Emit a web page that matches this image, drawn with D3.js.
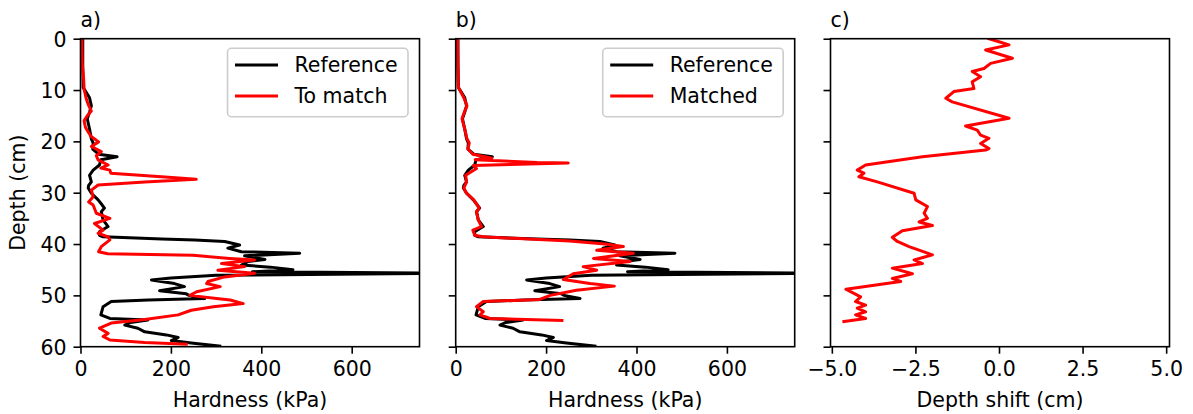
<!DOCTYPE html>
<html>
<head>
<meta charset="utf-8">
<script src="https://cdn.jsdelivr.net/npm/d3@7"></script>
<style>
  body { margin: 0; background: #fff; }
  svg { display: block; }
  text { font-family: "DejaVu Sans", sans-serif; fill: #000; }
</style>
</head>
<body>
<svg id="chart" width="1193" height="414"></svg>
<script>
// ---------- DATA ----------
// Reference hardness profile (black)
const refDepth = [0,5,9.5,10.5,11.5,13.1,14.3,15.6,17.6,19.5,20.3,21.5,22.5,23.0,23.6,24.6,25.6,26.6,27.9,28.6,29.1,30.1,31.4,32.4,33.0,33.7,35.3,36.6,37.6,38.3,38.6,39.0,39.2,39.5,40.2,40.8,41.5,41.8,42.3,43.0,43.4,44.1,44.5,45.0,45.4,45.7,46.1,46.6,47.0,47.7,48.3,49.1,49.7,50.0,50.6,50.9,51.2,52.2,53.8,54.5,54.8,55.3,55.8,56.4,57.1,57.7,58.2,58.8,59.3,59.9];
const refHardness = [5,5,6,13,20,24,20,15,20,24,28,27,40,81,45,42,28,20,24,18,17,24,39,48,53,46,50,61,42,42,50,180,253,319,352,326,356,485,363,408,371,356,420,470,380,820,300,200,157,208,230,175,234,240,275,150,68,50,45,65,149,110,98,127,142,190,216,201,245,308];

// Profile to match (red, panel a)
const matchDepth = [0,5,7.9,9.9,11.8,13.0,14.1,15.0,16.0,17.3,19.0,20.1,21.0,22.0,22.8,23.6,24.6,25.2,25.6,26.2,26.9,27.4,27.9,28.5,29.5,30.8,31.8,32.4,34.0,35.0,36.0,37.3,37.9,38.6,39.2,40.5,41.5,41.9,42.2,42.8,43.1,43.8,44.4,45.1,45.7,46.4,47.3,47.7,48.3,49.3,50.0,50.6,50.9,51.6,52.2,52.9,53.8,54.7,55.4,56.4,57.4,58.0,58.7,59.2,59.5];
const matchHardness = [3,4,7,8,13,18,24,15,8,11,23,40,24,46,35,39,61,45,65,67,179,256,142,39,24,28,18,28,35,65,31,50,39,61,65,46,40,60,249,330,385,312,363,304,385,319,282,279,309,257,242,301,331,360,294,245,216,142,68,42,61,50,65,142,234];

// Matched profile (red, panel b)
const matchedDepth = [0,5,9.5,10.5,11.5,13.1,14.3,15.6,17.6,19.5,20.3,21.5,22.5,23.3,23.6,24.1,24.2,24.5,24.7,25.3,26.6,27.9,29.1,30.1,31.4,33.0,33.7,35.3,36.6,37.3,38.3,38.6,39.4,40.0,40.5,41.2,41.8,42.8,43.4,44.4,45.1,45.8,46.9,47.7,48.2,49.0,50.0,50.8,51.2,52.2,53.2,53.8,54.5,54.9];
const matchedHardness = [4,5,6,12,18,25,19,14,20,25,30,27,38,80,43,180,249,120,39,46,22,24,18,24,40,52,46,50,57,38,42,60,252,330,371,312,393,305,386,282,312,260,238,297,351,267,209,186,61,46,61,54,76,235];

// Depth shift (panel c)
const shiftDepth = [0,0.6,1.2,2.2,3.8,4.8,5.8,6.4,7.4,8.4,9.7,10.3,11.6,12.3,15.5,17.0,17.8,18.8,19.4,20.4,21.4,21.7,23.0,24.6,25.6,26.2,26.9,27.9,30.1,31.4,32.7,34.0,35.0,35.7,36.4,37.4,38.7,39.5,40.5,42.1,43.1,43.8,44.7,45.8,46.7,47.3,48.8,49.6,50.3,51.2,51.9,52.5,53.2,53.8,54.5,55.1];
const shiftValue = [-0.30,0,0.30,-0.40,0.40,-0.25,-0.45,-0.80,-0.55,-0.80,-0.75,-1.35,-1.59,-1.40,0.30,-1.0,-0.65,-0.55,-0.30,-0.55,-0.30,-0.40,-2.29,-3.99,-4.24,-4.04,-4.19,-3.64,-2.54,-2.49,-2.14,-2.24,-2.14,-2.39,-1.99,-2.89,-3.19,-3.04,-2.69,-1.99,-2.54,-2.29,-3.19,-2.59,-3.19,-2.94,-4.58,-4.34,-4.14,-4.29,-3.99,-4.24,-3.99,-4.29,-3.99,-4.64];

const hardTicks = [0, 200, 400, 600];
const shiftTicks = [-5.0, -2.5, 0.0, 2.5, 5.0];
const depthTicks = [0, 10, 20, 30, 40, 50, 60];
const panelLabels = ["a)", "b)", "c)"];
const legendA = ["Reference", "To match"];
const legendB = ["Reference", "Matched"];

// ---------- LAYOUT ----------
const svg = d3.select("#chart");
const FS = 20.5;
const axTop = 38.7, axH = 308, axW = 339;
const lefts = [80.5, 455.7, 830.5];
const tickLen = 7, tickPad = 7;

const y = d3.scaleLinear().domain([0, 60]).range([axTop, axTop + axH]);

function zip(a, b) { return a.map((d, i) => [d, b[i]]); }

function panel(i, xDomain, xTicks, xFmt, series, xLabel, showY, legend) {
  const left = lefts[i];
  const x = d3.scaleLinear().domain(xDomain).range([left, left + axW]);
  const g = svg.append("g");
  const clipId = "clip" + i;
  svg.append("clipPath").attr("id", clipId).append("rect")
    .attr("x", left).attr("y", axTop).attr("width", axW).attr("height", axH);

  const line = d3.line().x(d => x(d[1])).y(d => y(d[0]));
  const pg = g.append("g").attr("clip-path", `url(#${clipId})`);
  series.forEach(s => {
    pg.append("path").datum(zip(s.depth, s.value))
      .attr("d", line).attr("fill", "none").attr("stroke", s.color)
      .attr("stroke-width", 3).attr("stroke-linejoin", "round").attr("stroke-linecap", "square");
  });

  // frame
  g.append("rect").attr("x", left).attr("y", axTop).attr("width", axW).attr("height", axH)
    .attr("fill", "none").attr("stroke", "#000").attr("stroke-width", 1.6);

  // x axis
  const xa = g.append("g").attr("transform", `translate(0,${axTop + axH})`)
    .call(d3.axisBottom(x).tickValues(xTicks).tickFormat(xFmt).tickSizeInner(tickLen).tickSizeOuter(0).tickPadding(tickPad));
  xa.select(".domain").remove();
  xa.selectAll("line").attr("stroke", "#000").attr("stroke-width", 1.6);
  xa.selectAll("text").attr("font-size", FS).attr("font-family", "DejaVu Sans").attr("dy", "0.76em");

  g.append("text").attr("x", left + axW / 2).attr("y", 407)
    .attr("text-anchor", "middle").attr("font-size", FS).text(xLabel);

  // y axis
  const ya = g.append("g").attr("transform", `translate(${left},0)`)
    .call(d3.axisLeft(y).tickValues(depthTicks).tickFormat(showY ? d3.format("d") : () => "")
      .tickSizeInner(tickLen).tickSizeOuter(0).tickPadding(tickPad));
  ya.select(".domain").remove();
  ya.selectAll("line").attr("stroke", "#000").attr("stroke-width", 1.6);
  ya.selectAll("text").attr("font-size", FS).attr("font-family", "DejaVu Sans").attr("dy", "0.36em");

  if (showY) {
    g.append("text").attr("transform", `translate(25,${axTop + axH / 2}) rotate(-90)`)
      .attr("text-anchor", "middle").attr("font-size", FS).text("Depth (cm)");
  }

  g.append("text").attr("x", left).attr("y", 27).attr("font-size", FS).text(panelLabels[i]);

  if (legend) {
    const lx = left + axW - 11.5 - 180.5, ly = 48.3;
    const lg = g.append("g");
    lg.append("rect").attr("x", lx).attr("y", ly).attr("width", 180.5).attr("height", 68.4)
      .attr("rx", 4).attr("ry", 4).attr("fill", "#fff").attr("fill-opacity", 0.8)
      .attr("stroke", "#cccccc").attr("stroke-width", 1.6);
    legend.forEach((lab, k) => {
      const cy = ly + 16.7 + k * 31;
      lg.append("line").attr("x1", lx + 7.5).attr("x2", lx + 50.5).attr("y1", cy).attr("y2", cy)
        .attr("stroke", series[k].color).attr("stroke-width", 3);
      lg.append("text").attr("x", lx + 67).attr("y", cy + 7.3).attr("font-size", FS).text(lab);
    });
  }
}

const fmtInt = d3.format("d");
const fmtShift = d => d3.format(".1f")(d).replace("-", "\u2212");

panel(0, [0, 750], hardTicks, fmtInt, [
  { depth: refDepth, value: refHardness, color: "#000000" },
  { depth: matchDepth, value: matchHardness, color: "#ff0000" }
], "Hardness (kPa)", true, legendA);

panel(1, [0, 750], hardTicks, fmtInt, [
  { depth: refDepth, value: refHardness, color: "#000000" },
  { depth: matchedDepth, value: matchedHardness, color: "#ff0000" }
], "Hardness (kPa)", false, legendB);

panel(2, [-5.04, 5.1], shiftTicks, fmtShift, [
  { depth: shiftDepth, value: shiftValue, color: "#ff0000" }
], "Depth shift (cm)", false, null);
</script>
</body>
</html>
